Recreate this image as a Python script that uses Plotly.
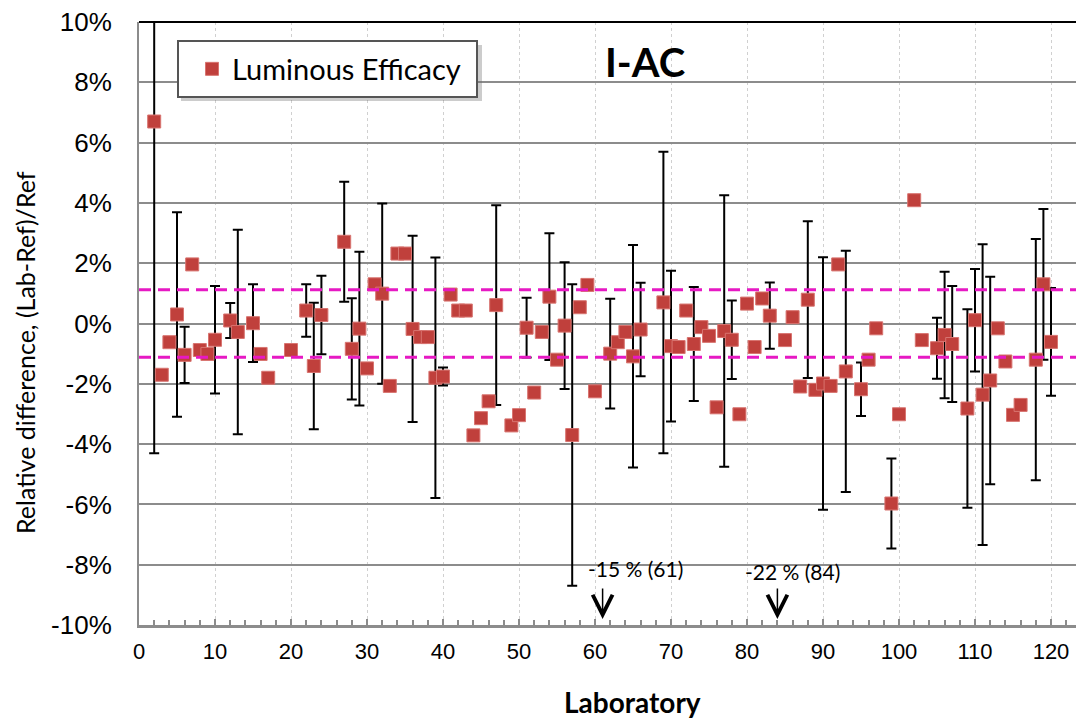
import plotly.graph_objects as go

# ---- data ----
labs = [2, 3, 4, 5, 6, 7, 8, 9, 10, 12, 13, 15, 16, 17, 20, 22, 23, 24, 27, 28,
        29, 30, 31, 32, 33, 34, 35, 36, 37, 38, 39, 40, 41, 42, 43, 44, 45, 46, 47, 49,
        50, 51, 52, 53, 54, 55, 56, 57, 58, 59, 60, 62, 63, 64, 65, 66, 69, 70, 71, 72,
        73, 74, 75, 76, 77, 78, 79, 80, 81, 82, 83, 85, 86, 87, 88, 89, 90, 91, 92, 93,
        95, 96, 97, 99, 100, 102, 103, 105, 106, 107, 109, 110, 111, 112, 113, 114, 115, 116, 118, 119,
        120]
rel_diff = [6.70, -1.70, -0.62, 0.30, -1.04, 1.96, -0.88, -1.01, -0.54, 0.10, -0.28, 0.01, -1.01, -1.80, -0.88, 0.43, -1.41, 0.28, 2.71, -0.84,
            -0.17, -1.49, 1.30, 0.99, -2.07, 2.32, 2.32, -0.18, -0.45, -0.45, -1.80, -1.76, 0.96, 0.43, 0.43, -3.71, -3.14, -2.58, 0.61, -3.38,
            -3.04, -0.14, -2.29, -0.28, 0.89, -1.20, -0.07, -3.70, 0.54, 1.28, -2.25, -1.00, -0.62, -0.28, -1.09, -0.20, 0.70, -0.75, -0.78, 0.43,
            -0.68, -0.12, -0.41, -2.78, -0.25, -0.54, -3.01, 0.66, -0.78, 0.83, 0.26, -0.55, 0.21, -2.09, 0.79, -2.20, -1.99, -2.07, 1.96, -1.59,
            -2.18, -1.20, -0.16, -5.97, -3.01, 4.09, -0.55, -0.82, -0.38, -0.68, -2.82, 0.11, -2.36, -1.89, -0.16, -1.26, -3.03, -2.70, -1.20, 1.30,
            -0.61]
uncert = [11.0, None, None, 3.39, 0.93, None, None, None, 1.78, 0.58, 3.39, 1.29, None, None, None, 0.87, 2.10, 1.30, 1.99, 1.68,
          2.55, None, None, 2.99, None, None, None, 3.09, None, None, 3.99, 0.30, None, None, None, None, None, None, 3.31, None,
          None, 0.99, None, None, 2.10, None, 2.10, 5.00, None, None, None, 1.82, None, None, 3.69, 1.55, 5.00, 2.50, None, None,
          1.89, None, None, None, 4.50, 1.30, None, None, None, None, 1.10, None, None, None, 2.60, None, 4.19, None, None, 4.00,
          0.89, None, None, 1.49, None, None, None, 1.01, 2.10, 1.92, 3.29, 1.70, 4.99, 3.44, None, None, None, None, 4.00, 2.50,
          1.79]
limit = 1.12
y_ticks = [-10, -8, -6, -4, -2, 0, 2, 4, 6, 8, 10]
y_tick_text = ["-10%", "-8%", "-6%", "-4%", "-2%", "0%", "2%", "4%", "6%", "8%", "10%"]
x_ticks = [0, 10, 20, 30, 40, 50, 60, 70, 80, 90, 100, 110, 120]
offscale_labs = [61, 84]
offscale_text = ["-15 % (61)", "-22 % (84)"]

CAL = "Lato, 'Open Sans', sans-serif"
ARIAL = "'Liberation Sans', Arial, sans-serif"

eb_x = [l for l, u in zip(labs, uncert) if u is not None]
eb_y = [v for v, u in zip(rel_diff, uncert) if u is not None]
eb_e = [u for u in uncert if u is not None]

fig = go.Figure()
fig.add_trace(go.Scatter(
    x=eb_x, y=eb_y, mode="markers", showlegend=False, hoverinfo="skip",
    marker=dict(size=2, color="rgba(0,0,0,0)"),
    error_y=dict(type="data", array=eb_e, visible=True, color="black", thickness=2, width=5),
))
fig.add_trace(go.Scatter(
    x=labs, y=rel_diff, mode="markers", name="Luminous Efficacy",
    marker=dict(symbol="square", size=13, color="#C0403C", line=dict(color="#D87470", width=1)),
))

L, R, T, B = 139, 0, 22, 95
W, H = 1076, 720
pw, ph = W - L - R, H - T - B

def px_x(p):
    return (p - L) / pw

def px_y(p):
    return 1 - (p - T) / ph

shapes = []
for yv in (limit, -limit):
    shapes.append(dict(type="line", xref="paper", x0=0, x1=1, yref="y", y0=yv, y1=yv,
                       line=dict(color="#E619C3", width=3, dash="12px,7px"), layer="above"))
shapes.append(dict(type="line", xref="paper", x0=0, x1=1, yref="paper", y0=1, y1=1,
                   line=dict(color="black", width=2), layer="above"))
# legend shadow and box
shapes.append(dict(type="rect", xref="paper", yref="paper",
                   x0=px_x(181), x1=px_x(482), y0=px_y(101), y1=px_y(45),
                   fillcolor="rgba(110,110,110,0.35)", line=dict(width=0), layer="above"))
shapes.append(dict(type="rect", xref="paper", yref="paper",
                   x0=px_x(178), x1=px_x(477), y0=px_y(97), y1=px_y(41),
                   fillcolor="white", line=dict(width=2, color="#555555"), layer="above"))

annotations = [
    dict(text="<b>I-AC</b>", xref="paper", yref="paper", x=px_x(645), y=px_y(62),
         xanchor="center", yanchor="middle",
         showarrow=False, font=dict(family=CAL, size=40, color="black")),
    dict(text="<b>Laboratory</b>", xref="paper", yref="paper", x=px_x(632), y=px_y(702),
         xanchor="center", yanchor="middle",
         showarrow=False, font=dict(family=CAL, size=28, color="black")),
    dict(text="Relative difference, (Lab-Ref)/Ref", xref="paper", yref="paper",
         x=px_x(25), y=px_y(353), xanchor="center", yanchor="middle", textangle=-90, showarrow=False,
         font=dict(family=CAL, size=25, color="black")),
]
text_px = [(635, 568), (792, 571)]
for lab, txt, (tx, ty) in zip(offscale_labs, offscale_text, text_px):
    annotations.append(dict(text=txt, xref="paper", yref="paper", x=px_x(tx), y=px_y(ty),
                            xanchor="center", yanchor="middle",
                            showarrow=False, font=dict(family=CAL, size=21, color="black")))
    annotations.append(dict(text="", x=lab, y=-9.8, xref="x", yref="y", showarrow=True,
                            arrowhead=5, arrowsize=2.6, arrowwidth=1.5, arrowcolor="black",
                            ax=0, ay=-32))

fig.update_layout(
    width=W, height=H, margin=dict(l=L, r=R, t=T, b=B),
    paper_bgcolor="white", plot_bgcolor="white",
    shapes=shapes, annotations=annotations,
    legend=dict(x=px_x(192), y=px_y(69), xanchor="left", yanchor="middle",
                bgcolor="rgba(0,0,0,0)", borderwidth=0, itemwidth=30,
                font=dict(family=CAL, size=29, color="black")),
    xaxis=dict(range=[0, pw / 7.6], tickvals=x_ticks, showgrid=True, gridcolor="#D0D0D0",
               griddash="3px,3px", gridwidth=1, zeroline=False,
               showline=True, linecolor="#8C8C8C", linewidth=2.5,
               ticks="inside", ticklen=6, tickcolor="#8C8C8C", tickwidth=1.5,
               minor=dict(dtick=2, ticks="inside", ticklen=5, tickcolor="#8C8C8C", tickwidth=1.5, showgrid=False),
               tickfont=dict(family=ARIAL, size=22, color="black"), ticklabelstandoff=5),
    yaxis=dict(range=[-10, 10], tickvals=y_ticks, ticktext=y_tick_text, showgrid=True,
               gridcolor="#8C8C8C", gridwidth=1.5, zeroline=False,
               showline=True, linecolor="#8C8C8C", linewidth=2,
               tickfont=dict(family=ARIAL, size=26, color="black"), ticklabelstandoff=20),
)

fig.write_html("out.html")
